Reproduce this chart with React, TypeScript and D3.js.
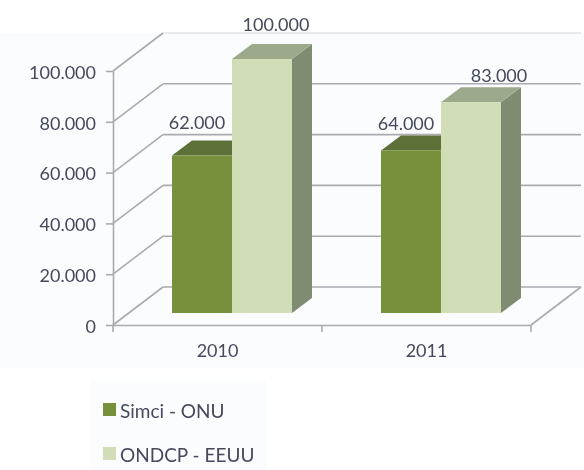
import React, { useEffect, useRef } from 'react';
import * as d3 from 'd3';

const years = ['2010', '2011'];
const seriesNames = ['Simci - ONU', 'ONDCP - EEUU'];
const simciValues = [62000, 64000];
const ondcpValues = [100000, 83000];
const yTicks = [0, 20000, 40000, 60000, 80000, 100000];

const frontColors = ['#76903a', '#d0ddb6'];
const topColors = ['#5c6f38', '#9ca98a'];
const sideColors = ['#56683a', '#7f8c72'];

const width = 584;
const height = 470;
const fontFamily = 'Lato, "Open Sans", sans-serif';
const textColor = '#444a5c';
const lineColor = '#a9abb1';

// offset of the back wall, and of the bars' own depth
const wall = { dx: 50, dy: -38 };
const depth = { dx: 20, dy: -15 };
const floorLift = 12;

// hand placed value labels, per series then per year, relative to the bar front
const labelShiftX = [[-5, -5], [14, 28]];
const labelShiftY = [[-27, -20], [-28, -20]];

const App = () => {
  const ref = useRef<SVGSVGElement>(null);

  useEffect(() => {
    const svg = d3.select(ref.current);
    svg.selectAll('*').remove();

    const x = d3.scaleBand().domain(years).range([113, 531]);
    const inner = d3.scaleBand().domain(seriesNames).range([59, 179]);
    const y = d3.scaleLinear().domain([0, 100000]).range([325, 71]);
    const label = d3.formatLocale({ decimal: ',', thousands: '.', grouping: [3], currency: ['', ''] }).format(',');

    const defs = svg.append('defs');
    defs.append('filter').attr('id', 'soft').append('feGaussianBlur').attr('stdDeviation', 0.45);

    svg.append('rect').attr('width', width).attr('height', height).attr('fill', '#ffffff');
    svg.append('rect').attr('x', 0).attr('y', 33).attr('width', width).attr('height', 335).attr('fill', '#fbfcfe');
    svg.append('rect').attr('x', 90).attr('y', 380).attr('width', 176).attr('height', 90).attr('fill', '#fbfcfe');

    const chart = svg.append('g').attr('filter', 'url(#soft)');

    // back wall grid and left wall diagonals
    const grid = chart.append('g').attr('fill', 'none').attr('stroke', lineColor).attr('stroke-width', 1.6);
    yTicks.forEach((t) => {
      grid.append('line')
        .attr('x1', x.range()[0] + wall.dx).attr('x2', x.range()[1] + wall.dx)
        .attr('y1', y(t) + wall.dy).attr('y2', y(t) + wall.dy)
        .attr('stroke', t === 100000 ? '#e2e3e7' : lineColor);
      grid.append('line')
        .attr('x1', x.range()[0]).attr('x2', x.range()[0] + wall.dx)
        .attr('y1', y(t)).attr('y2', y(t) + wall.dy);
    });
    grid.append('line')
      .attr('x1', x.range()[1]).attr('x2', x.range()[1] + wall.dx)
      .attr('y1', y(0)).attr('y2', y(0) + wall.dy);

    // axes
    const yAxis = chart.append('g')
      .attr('transform', `translate(${x.range()[0]},0)`)
      .call(d3.axisLeft(y).tickValues(yTicks).tickSize(7).tickSizeOuter(0).tickFormat((d) => label(d as number)));
    const xAxis = chart.append('g')
      .attr('transform', `translate(0,${y(0)})`)
      .call(d3.axisBottom(x).tickSize(0).tickSizeOuter(0));
    [yAxis, xAxis].forEach((axis) => {
      axis.selectAll('path, line').attr('stroke', lineColor).attr('stroke-width', 1.6);
      axis.selectAll('text').attr('font-family', fontFamily).attr('font-size', 18).attr('fill', textColor);
    });
    yAxis.selectAll('text').attr('x', -17).attr('dy', '0.4em');
    xAxis.selectAll('text').attr('y', 19);
    // category ticks sit between the groups, not in their middle
    const edges = [...years.map((d) => x(d) as number), x.range()[1]];
    chart.append('g').selectAll('line').data(edges).join('line')
      .attr('x1', (d) => d).attr('x2', (d) => d)
      .attr('y1', y(0)).attr('y2', y(0) + 7)
      .attr('stroke', lineColor).attr('stroke-width', 1.6);

    // bars, the light one last so it covers the side of the dark one
    const values = [simciValues, ondcpValues];
    const bars = chart.append('g');
    years.forEach((year, yi) => {
      seriesNames.forEach((name, si) => {
        const left = (x(year) as number) + (inner(name) as number);
        const w = inner.bandwidth();
        const top = y(values[si][yi]) - floorLift;
        const base = y(0) - floorLift;
        const path = (pts: [number, number][]) => d3.line()(pts) + 'Z';
        bars.append('path')
          .attr('d', path([[left + w, top], [left + w + depth.dx, top + depth.dy], [left + w + depth.dx, base + depth.dy], [left + w, base]]))
          .attr('fill', sideColors[si]);
        bars.append('path')
          .attr('d', path([[left, top], [left + depth.dx, top + depth.dy], [left + w + depth.dx, top + depth.dy], [left + w, top]]))
          .attr('fill', topColors[si]);
        bars.append('rect')
          .attr('x', left).attr('y', top).attr('width', w).attr('height', base - top)
          .attr('fill', frontColors[si]);
      });
    });

    // value labels
    const labels = chart.append('g').attr('font-family', fontFamily).attr('font-size', 18).attr('fill', textColor).attr('text-anchor', 'middle');
    years.forEach((year, yi) => {
      seriesNames.forEach((name, si) => {
        const left = (x(year) as number) + (inner(name) as number);
        labels.append('text')
          .attr('x', left + inner.bandwidth() / 2 + labelShiftX[si][yi])
          .attr('y', y(values[si][yi]) - floorLift + labelShiftY[si][yi])
          .text(label(values[si][yi]));
      });
    });

    // legend
    const legendY = d3.scalePoint().domain(seriesNames).range([403, 447]);
    const legend = chart.append('g');
    seriesNames.forEach((name, si) => {
      legend.append('rect')
        .attr('x', 103).attr('y', legendY(name) as number).attr('width', 13).attr('height', 13)
        .attr('fill', frontColors[si]);
      legend.append('text')
        .attr('x', 120).attr('y', (legendY(name) as number) + 15)
        .attr('font-family', fontFamily).attr('font-size', 19).attr('fill', textColor)
        .text(name);
    });
  }, []);

  return <svg ref={ref} width={width} height={height} style={{ position: 'absolute', left: 0, top: 0 }} />;
};

export default App;
